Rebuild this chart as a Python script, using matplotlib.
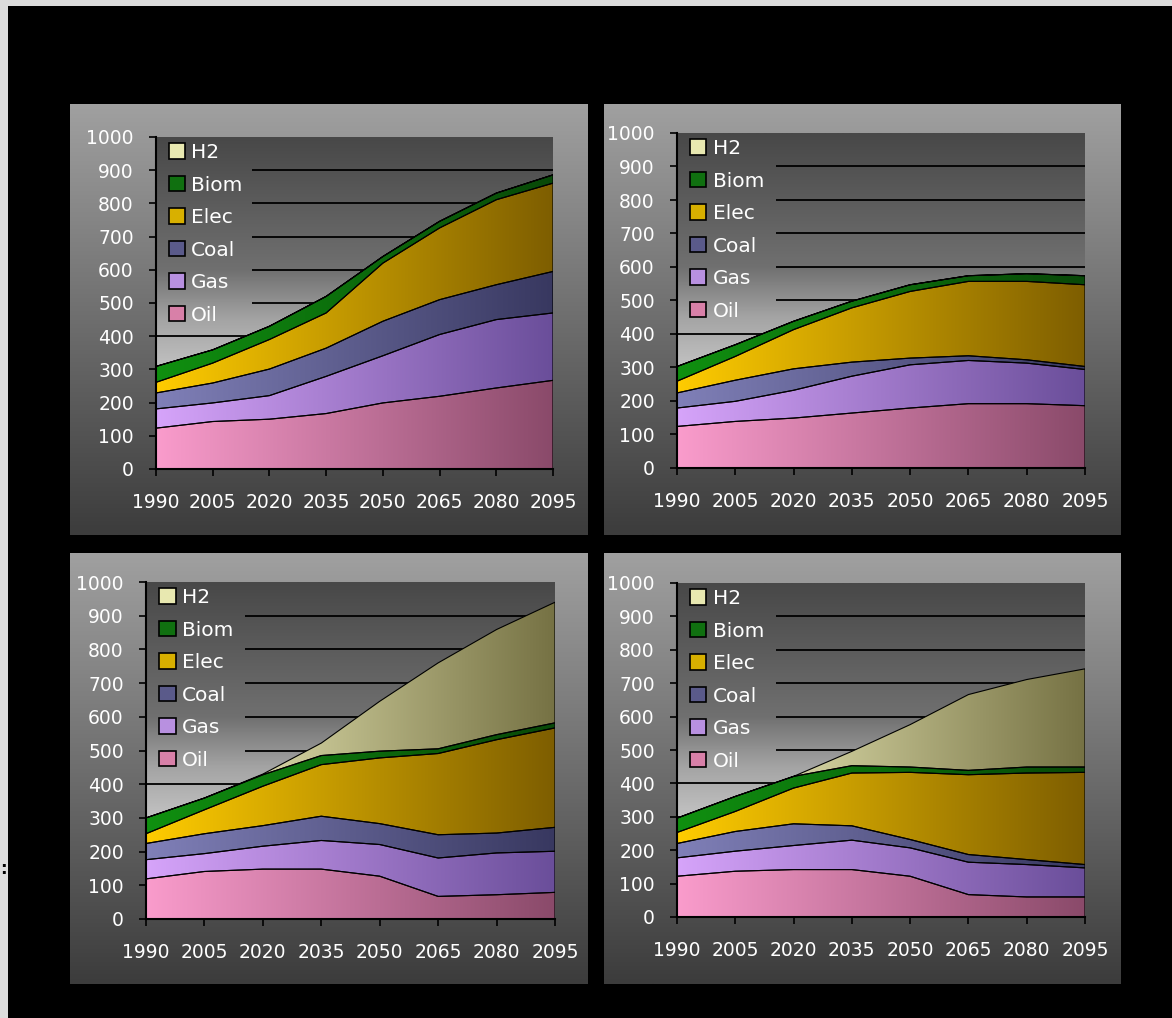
import numpy as np
import matplotlib.pyplot as plt
from matplotlib.colors import LinearSegmentedColormap
from matplotlib.patches import Rectangle, Patch

plt.rcParams['font.family'] = ['DejaVu Sans']

# data (values per layer, stacked from the bottom)
years = [1990, 2005, 2020, 2035, 2050, 2065, 2080, 2095]
xticks = [1990, 2005, 2020, 2035, 2050, 2065, 2080, 2095]
yticks = [0, 100, 200, 300, 400, 500, 600, 700, 800, 900, 1000]
series = ['Oil', 'Gas', 'Coal', 'Elec', 'Biom', 'H2']

# top left
oil_1 = [123, 143, 150, 167, 199, 219, 244, 267]
gas_1 = [58, 56, 71, 112, 142, 186, 206, 203]
coal_1 = [48, 60, 80, 85, 104, 105, 105, 125]
elec_1 = [32, 60, 89, 106, 175, 216, 256, 266]
biom_1 = [48, 40, 40, 50, 20, 20, 20, 25]
h2_1 = [0, 0, 0, 0, 0, 0, 0, 0]

# top right
oil_2 = [124, 139, 149, 164, 179, 192, 192, 186]
gas_2 = [55, 60, 83, 110, 129, 129, 121, 108]
coal_2 = [45, 63, 64, 42, 20, 14, 10, 9]
elec_2 = [35, 71, 117, 162, 199, 222, 234, 244]
biom_2 = [44, 35, 25, 20, 20, 17, 23, 27]
h2_2 = [0, 0, 0, 0, 0, 0, 0, 0]

# bottom left
oil_3 = [119, 141, 148, 148, 127, 67, 72, 79]
gas_3 = [57, 53, 68, 85, 94, 114, 124, 122]
coal_3 = [48, 59, 61, 72, 62, 69, 59, 71]
elec_3 = [29, 71, 117, 153, 195, 241, 277, 295]
biom_3 = [47, 35, 34, 27, 20, 14, 15, 15]
h2_3 = [0, 0, 2, 37, 148, 255, 312, 358]

# bottom right
oil_4 = [122, 137, 142, 142, 122, 67, 60, 60]
gas_4 = [55, 60, 72, 88, 85, 97, 97, 87]
coal_4 = [43, 59, 65, 43, 25, 23, 15, 10]
elec_4 = [33, 60, 107, 158, 201, 239, 259, 276]
biom_4 = [43, 45, 35, 22, 16, 13, 18, 16]
h2_4 = [0, 0, 0, 43, 127, 227, 262, 294]

panel_data = [
    [oil_1, gas_1, coal_1, elec_1, biom_1, h2_1],
    [oil_2, gas_2, coal_2, elec_2, biom_2, h2_2],
    [oil_3, gas_3, coal_3, elec_3, biom_3, h2_3],
    [oil_4, gas_4, coal_4, elec_4, biom_4, h2_4],
]

# colours: (left, right) of the horizontal gradient
grad_colors = {
    'Oil': ('#fa9ccc', '#8a4a6a'),
    'Gas': ('#d6a4fa', '#6a4e9a'),
    'Coal': ('#8080b8', '#383860'),
    'Elec': ('#ffcc00', '#7e5e00'),
    'Biom': ('#109010', '#084808'),
    'H2': ('#fbfbc8', '#767244'),
}
legend_colors = {
    'Oil': '#d880a8', 'Gas': '#b890e0', 'Coal': '#5a5a8a',
    'Elec': '#d8b000', 'Biom': '#107010', 'H2': '#e8e8b0',
}

W, H = 1172, 1018


def fig_box(x0, y0, x1, y1):
    return [x0 / W, 1 - y1 / H, (x1 - x0) / W, (y1 - y0) / H]


outer_boxes = [(70, 104, 587, 535), (604, 104, 1121, 535),
               (70, 553, 587, 984), (604, 553, 1121, 984)]
plot_boxes = [(156, 137, 553, 469), (677, 133, 1085, 468),
              (146, 582, 555, 919), (677, 583, 1085, 917)]

fig = plt.figure(figsize=(W / 100, H / 100), dpi=100, facecolor='#dcdcdc')
fig.add_artist(Rectangle((8 / W, 0), 1, 1 - 6 / H, transform=fig.transFigure,
                         facecolor='black', edgecolor='none', zorder=0))
fig.text(0.0, 1 - 869 / H, ':', color='black', fontsize=12, fontweight='bold',
         ha='left', va='center')

panel_cmap = LinearSegmentedColormap.from_list('panel', ['#3c3c3c', '#a0a0a0'])
area_cmap = LinearSegmentedColormap.from_list(
    'area', [(0, '#d2d2d2'), (0.3, '#c2c2c2'), (0.45, '#a4a4a4'),
             (0.6, '#707070'), (1.0, '#484848')])
vgrad = np.linspace(0, 1, 256).reshape(-1, 1)
hgrad = np.linspace(0, 1, 256).reshape(1, -1)

for i in range(4):
    # panel background
    bg = fig.add_axes(fig_box(*outer_boxes[i]), zorder=1)
    bg.imshow(vgrad, cmap=panel_cmap, origin='lower', aspect='auto', extent=[0, 1, 0, 1])
    bg.axis('off')

    ax = fig.add_axes(fig_box(*plot_boxes[i]), zorder=2)
    ax.set_facecolor('none')
    ax.imshow(vgrad, cmap=area_cmap, origin='lower', aspect='auto',
              extent=[1990, 2095, 0, 1000], zorder=0)

    # grid lines (the legend hides their left part above 400)
    ax.hlines([500, 600, 700, 800, 900], 2015.5, 2095, color='black', lw=1.3, zorder=1)
    ax.hlines([100, 200, 300, 400], 1990, 2095, color='black', lw=1.3, zorder=1)

    lower = np.zeros(len(years))
    for name, vals in zip(series, panel_data[i]):
        upper = lower + np.array(vals)
        poly = ax.fill_between(years, lower, upper, facecolor='none',
                               edgecolor='black', linewidth=0.8, zorder=4)
        cmap = LinearSegmentedColormap.from_list(name, grad_colors[name])
        im = ax.imshow(hgrad, cmap=cmap, aspect='auto', extent=[1990, 2095, 0, 1000],
                       zorder=3, interpolation='bilinear')
        im.set_clip_path(poly.get_paths()[0], transform=ax.transData)
        lower = upper

    ax.set_xlim(1990, 2095)
    ax.set_ylim(0, 1000)
    ax.set_xticks(xticks)
    ax.set_yticks(yticks)
    for s in ['top', 'right']:
        ax.spines[s].set_visible(False)
    for s in ['left', 'bottom']:
        ax.spines[s].set_color('black')
        ax.spines[s].set_linewidth(1.5)
        ax.spines[s].set_zorder(6)
    ax.tick_params(axis='both', colors='black', labelcolor='white', labelsize=13.5,
                   length=5, width=1.2, direction='out')
    ax.tick_params(axis='x', pad=12)
    ax.tick_params(axis='y', pad=11)

    handles = [Patch(facecolor=legend_colors[n], edgecolor='black', linewidth=1.2)
               for n in reversed(series)]
    leg = ax.legend(handles, list(reversed(series)), loc='upper left',
                    bbox_to_anchor=(0.018, 1.0), frameon=False, fontsize=14.5,
                    labelcolor='white', handlelength=0.8, handleheight=0.8,
                    handletextpad=0.3, labelspacing=0.67, borderaxespad=0,
                    borderpad=0.3)
    leg.set_zorder(7)

fig.savefig('out.png', dpi=100, facecolor=fig.get_facecolor())
